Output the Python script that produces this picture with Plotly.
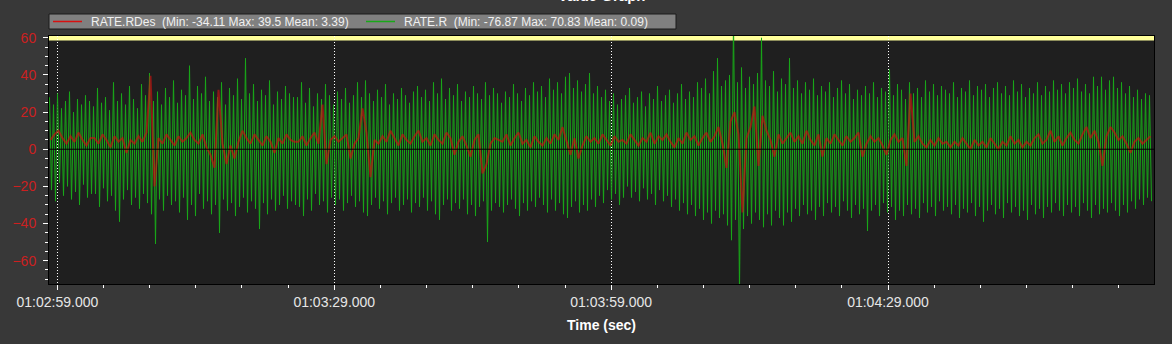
import plotly.graph_objects as go

# ---------------- data ----------------
# time axis: seconds after 01:02:00
X_RANGE = [58.09, 177.82]
Y_RANGE = [-72.6, 61.0]
T_START = 58.1442        # first sample
CYCLE = 0.43341          # seconds per oscillation cycle of RATE.R

# RATE.R (green) : successive peak (hi) and trough (lo) values per cycle
rate_r_hi = [
    28, 24, 30, 22, 26, 31, 20, 27, 24, 29, 26,
    23, 33, 25, 28, 21, 36, 26, 30, 24, 34,
    27, 22, 35, 29, 41, 26, 31, 24, 33, 28,
    37, 25, 32, 29, 45, 27, 34, 30, 39, 26,
    31, 28, 36, 24, 33, 29, 38, 27, 49, 30,
    35, 26, 32, 29, 37, 24, 31, 27, 34, 30, 28,
    28, 36, 25, 33, 23, 30, 27, 35, 29, 24,
    31, 27, 33, 25, 29, 36, 28, 37, 30, 26,
    32, 28, 35, 24, 30, 27, 33, 29, 25, 31,
    34, 28, 32, 26, 36, 30, 38, 27, 33, 29,
    35, 26, 31, 28, 34, 30, 27, 36, 29, 33, 30,
    25, 31, 28, 35, 30, 26, 33, 29, 36, 31,
    34, 28, 38, 32, 36, 30, 39, 41, 33, 37,
    31, 35, 41, 30, 34, 28, 32, 26, 30, 24, 27,
    29, 33, 25, 28, 31, 23, 30, 27, 34, 26,
    29, 32, 25, 30, 35, 27, 31, 28, 36, 33,
    38, 30, 42, 49, 34, 37, 40, 70.83, 36, 44,
    33, 39, 35, 41, 60, 37, 34, 42, 31, 38,
    35, 49, 33, 37, 30, 36, 32, 38, 29, 34,
    31, 36, 28, 33, 37, 30, 35, 27, 32, 29,
    34, 30, 36, 28, 33, 31, 43, 29, 35, 32,
    27, 36, 30, 33, 28, 37, 31, 35, 29, 34, 32,
    30, 36, 28, 33, 31, 37, 29, 34, 32, 35,
    28, 33, 36, 30, 34, 29, 37, 31, 35, 28,
    33, 30, 36, 29, 34, 31, 37, 32, 35, 30,
    36, 33, 38, 31, 35, 30, 39, 34, 39, 32,
    37, 39, 33, 36, 30, 34, 28, 32, 27, 30,
    29,
]
rate_r_lo = [
    -22, -28, -18, -25, -20, -27, -23, -30, -19, -26, -24,
    -24, -31, -21, -28, -25, -33, -39, -27, -22, -30,
    -26, -32, -24, -29, -35, -51, -27, -33, -25, -30,
    -28, -34, -26, -38, -30, -36, -24, -32, -28, -35,
    -30, -45, -27, -33, -29, -36, -31, -26, -34, -28,
    -32, -43, -29, -35, -27, -33, -30, -25, -32, -28, -30,
    -31, -36, -27, -33, -24, -30, -28, -34, -26, -30,
    -27, -33, -29, -25, -31, -28, -34, -36, -30, -26,
    -32, -28, -35, -29, -26, -33, -30, -27, -34, -29,
    -31, -26, -33, -28, -35, -38, -30, -27, -33, -29,
    -32, -27, -35, -30, -36, -31, -28, -50, -33, -29, -31,
    -34, -30, -27, -32, -36, -29, -33, -28, -31, -26,
    -30, -34, -27, -33, -29, -35, -37, -31, -28, -34,
    -30, -33, -27, -31, -25, -29, -22, -27, -24, -30, -26,
    -20, -26, -23, -28, -21, -27, -24, -30, -22, -28,
    -25, -31, -27, -33, -29, -35, -30, -36, -32, -38,
    -34, -40, -33, -37, -35, -41, -49, -38, -76.87, -43,
    -36, -40, -34, -38, -42, -35, -41, -33, -37, -41,
    -34, -39, -32, -36, -30, -35, -33, -38, -31, -36,
    -29, -34, -31, -36, -28, -33, -37, -30, -35, -32,
    -44, -33, -30, -36, -29, -34, -31, -38, -33, -36,
    -30, -35, -32, -37, -29, -34, -31, -36, -28, -33, -31,
    -35, -30, -37, -32, -34, -29, -36, -31, -39, -33,
    -30, -35, -32, -37, -29, -34, -31, -36, -33, -38,
    -30, -35, -32, -37, -31, -34, -29, -33, -36, -30,
    -34, -31, -36, -29, -33, -37, -30, -35, -32, -34,
    -29, -33, -36, -30, -34, -28, -32, -27, -30, -26,
    -28,
]

# RATE.RDes (red): one value per cycle
rate_rdes = [
    5, 8, 10, 6, 3, 7, 4, 9, 5, 2, 6,
    6, 3, 8, 5, 1, 7, 4, 6, -2, 5,
    3, 7, 4, 9, 39.5, -20, 6, 3, 8, 5,
    2, 7, 4, 6, 9, 5, 3, 8, 1, -3,
    -10, 32, 3, -8, 2, -5, 4, 10, 6, 3,
    8, 5, 2, 7, 4, -2, 6, 3, 8, 5, 4,
    4, 7, 2, 6, 9, 3, 24, -8, 5, 7,
    4, 6, 8, -5, 3, 6, 22, 9, -15, 5,
    3, 7, 4, 10, 6, 2, 8, 5, 3, 7,
    10, 4, 6, 2, 8, 5, 3, 9, 6, -3,
    4, 7, 2, -4, 5, 8, -13, -8, 3, 6, 5,
    4, 8, 2, 6, 9, 3, 5, 1, 7, 4,
    2, 6, 3, 8, 5, 12, 4, -3, 6, -5,
    2, 7, 4, 6, 3, 8, 5, 2, 7, 4, 5,
    3, 8, 5, 2, 6, 4, 9, 3, 7, 5,
    8, 4, 1, 6, 3, 9, 5, 7, 2, 6,
    9, 4, 7, 12, 3, -10, 15, 20, 8, -34.11,
    6, 12, 23, -9, 18, 10, 5, -4, 8, 3,
    6, 9, 4, 7, 3, 10, 5, 2, 8, -4,
    6, 3, 8, 5, 2, 7, 4, 6, 9, -4,
    3, 7, 4, 6, 2, -3, 5, 8, 4, 6,
    -9, 30, 4, 7, 3, 1, 5, 2, 6, 3, 4,
    1, 4, 2, 6, 3, 0, 5, 2, 4, 1,
    6, 3, 0, 4, 2, 7, 3, 5, 1, 4,
    2, 6, 8, 3, 5, 10, 4, 7, 2, 6,
    9, 5, 3, 8, 12, 6, 10, 4, -9, 7,
    12, 9, 5, 7, 3, -2, 4, 6, 3, 5,
    7,
]

x_tick_vals = [59, 89, 119, 149]
x_tick_text = ["01:02:59.000", "01:03:29.000", "01:03:59.000", "01:04:29.000"]
y_tick_vals = [-60, -40, -20, 0, 20, 40, 60]
series_names = ["RATE.RDes", "RATE.R"]
series_stats = [
    "(Min: -34.11 Max: 39.5 Mean: 3.39)",
    "(Min: -76.87 Max: 70.83 Mean: 0.09)",
]
RED = "#d81010"
GREEN = "#18a818"

# ---------------- build series ----------------
green_x, green_y = [], []
for k, (hi, lo) in enumerate(zip(rate_r_hi, rate_r_lo)):
    green_x += [T_START + k * CYCLE, T_START + (k + 0.5) * CYCLE]
    green_y += [hi, lo]
red_x = [T_START + k * CYCLE + 0.25 * CYCLE for k in range(len(rate_rdes))]

fig = go.Figure()
fig.add_trace(go.Scatter(x=green_x, y=green_y, mode="lines", name=series_names[1],
                         line=dict(color=GREEN, width=1), showlegend=False))
fig.add_trace(go.Scatter(x=red_x, y=rate_rdes, mode="lines", name=series_names[0],
                         line=dict(color=RED, width=2), opacity=0.6,
                         showlegend=False))

W, H = 1172, 344
L, R, T, B = 49, 18, 36, 60
PW = W - L - R
PH = H - T - B


def px(xpix):
    return (xpix - L) / PW


def py(ypix):
    return 1 + (T - ypix) / PH


# manual legend (box, line samples, text)
LEG_Y0, LEG_Y1 = 14, 29
LEG_MID = (LEG_Y0 + LEG_Y1) / 2
shapes = [
    dict(type="rect", xref="paper", yref="y", x0=0, x1=1, y0=58.6, y1=Y_RANGE[1],
         fillcolor="#ffff99", line=dict(width=0), layer="below"),
    dict(type="line", xref="paper", yref="y", x0=0, x1=1, y0=0, y1=0,
         line=dict(color="#000000", width=1), layer="above"),
    dict(type="rect", xref="paper", yref="paper", x0=px(49), x1=px(676),
         y0=py(LEG_Y1), y1=py(LEG_Y0), fillcolor="#808080",
         line=dict(color="#1a1a1a", width=1), layer="above"),
    dict(type="line", xref="paper", yref="paper", x0=px(53), x1=px(82),
         y0=py(LEG_MID), y1=py(LEG_MID), line=dict(color=RED, width=1.5), layer="above"),
    dict(type="line", xref="paper", yref="paper", x0=px(366), x1=px(395),
         y0=py(LEG_MID), y1=py(LEG_MID), line=dict(color=GREEN, width=1.5), layer="above"),
]
annotations = [
    dict(text=series_names[0] + "\u00a0\u00a0" + series_stats[0], xref="paper", yref="paper",
         x=px(89), y=py(LEG_MID + 0.5), xanchor="left", yanchor="middle", showarrow=False,
         font=dict(size=12, color="#f0f0f0")),
    dict(text=series_names[1] + "\u00a0\u00a0" + series_stats[1], xref="paper", yref="paper",
         x=px(402), y=py(LEG_MID + 0.5), xanchor="left", yanchor="middle", showarrow=False,
         font=dict(size=12, color="#f0f0f0")),
    dict(text="<b>Value Graph</b>", xref="paper", yref="paper", x=0.5,
         y=py(-4), xanchor="center", yanchor="middle", showarrow=False,
         font=dict(size=15, color="#ffffff")),
    dict(text="<b>Time (sec)</b>", xref="paper", yref="paper", x=0.5,
         y=py(325), xanchor="center", yanchor="middle", showarrow=False,
         font=dict(size=14, color="#ffffff")),
]

fig.update_layout(
    width=W, height=H,
    margin=dict(l=L, r=R, t=T, b=B, pad=0),
    paper_bgcolor="#383838",
    plot_bgcolor="#1f1f1f",
    font=dict(family="Liberation Sans, Arial, sans-serif", color="#e6e6e6", size=14),
    showlegend=False,
    xaxis=dict(range=X_RANGE, tickmode="array", tickvals=x_tick_vals, ticktext=x_tick_text,
               showgrid=True, gridcolor="#ffffff", griddash="1px,2px", gridwidth=1,
               zeroline=False, showline=True, linecolor="#000000", linewidth=1, mirror=True,
               ticks="outside", ticklen=5, tickcolor="#ffffff",
               tickfont=dict(size=14, color="#e6e6e6"),
               minor=dict(tick0=59, dtick=5, ticks="outside", ticklen=3, tickcolor="#ffffff",
                          showgrid=False)),
    yaxis=dict(range=Y_RANGE, tickmode="array", tickvals=y_tick_vals,
               showgrid=False, zeroline=False, showline=True, linecolor="#000000",
               linewidth=1, mirror=True, ticks="outside", ticklen=5, tickcolor="#ffffff",
               tickfont=dict(size=14, color="#cc2020"), ticklabelstandoff=4,
               minor=dict(tick0=0, dtick=5, ticks="outside", ticklen=3, tickcolor="#ffffff",
                          showgrid=False)),
    shapes=shapes,
    annotations=annotations,
)

fig.write_html("out.html")
